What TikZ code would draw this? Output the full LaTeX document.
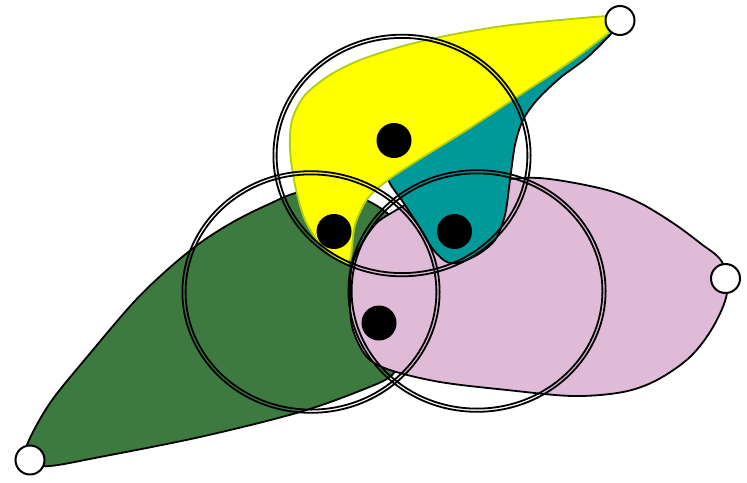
\documentclass[tikz,border=0pt]{standalone}
\definecolor{ylwfill}{RGB}{255,255,0}
\definecolor{ylwline}{RGB}{175,205,20}
\definecolor{tealfill}{RGB}{0,153,153}
\definecolor{grnfill}{RGB}{61,122,64}
\definecolor{pinkfill}{RGB}{223,187,215}
\tikzset{
  blob/.style={line width=1.8pt, line join=round},
  ring/.style={draw=black, line width=1.8pt},
  dot/.style={circle, fill=black, inner sep=0pt, minimum size=35pt},
  endnode/.style={circle, draw=black, fill=white, line width=2pt, inner sep=0pt, minimum size=29pt},
}
\begin{document}
\begin{tikzpicture}[x=1pt,y=-1pt]
\useasboundingbox (0,0) rectangle (747,482);
% green blob
\draw[blob, fill=grnfill, draw=black] plot[smooth cycle, tension=0.55] coordinates {
 (27,445) (50,403) (87,357) (133,303) (167,270) (200,243) (233,222) (267,205) (300,192)
 (340,192) (372,203) (395,222) (408,260) (410,310) (403,355) (392,375) (367,388)
 (300,412) (200,437) (100,457) (50,466) (28,463)};
% pink blob
\draw[blob, fill=pinkfill, draw=black] plot[smooth cycle, tension=0.55] coordinates {
 (727,293) (713,327) (690,357) (657,380) (623,392) (573,396) (507,390) (440,382)
 (390,370) (367,357) (353,330) (350,300) (353,262) (373,227) (393,212) (423,197)
 (473,184) (523,178) (557,180) (607,190) (640,203) (673,223) (700,243) (722,262)};
% teal blob
\draw[blob, fill=tealfill, draw=black] plot[smooth cycle, tension=0.5] coordinates {
 (620,22) (590,55) (560,78) (537,100) (523,120) (515,145) (510,180) (505,215) (495,240)
 (477,255) (457,263) (445,261) (432,248) (418,225) (403,202) (388,178) (400,158)
 (450,126) (510,88) (570,50)};
% yellow blob
\draw[blob, fill=ylwfill, draw=ylwline] plot[smooth cycle, tension=0.5] coordinates {
 (621,16) (560,20) (503,26) (450,35) (403,46) (360,60) (330,75) (305,95) (292,120)
 (290,150) (295,185) (305,220) (322,246) (348,263) (355,225) (368,198) (388,180)
 (420,159) (470,128) (520,95) (570,62) (612,30)};
% rings (double outlines)
\foreach \cx/\cy in {402/155.5, 311/292, 477/291} {
  \draw[ring] (\cx,\cy) ellipse [x radius=128.6, y radius=120.8];
  \draw[ring] (\cx,\cy) ellipse [x radius=125.4, y radius=117.6];
}
% vertices
\node[dot] (v1) at (394,140.5) {};
\node[dot] (v2) at (334,231.5) {};
\node[dot] (v3) at (454.5,231.5) {};
\node[dot] (v4) at (379,323) {};
\node[endnode] (e1) at (620,20.5) {};
\node[endnode] (e2) at (725.5,278.5) {};
\node[endnode] (e3) at (30,460) {};
\end{tikzpicture}
\end{document}
